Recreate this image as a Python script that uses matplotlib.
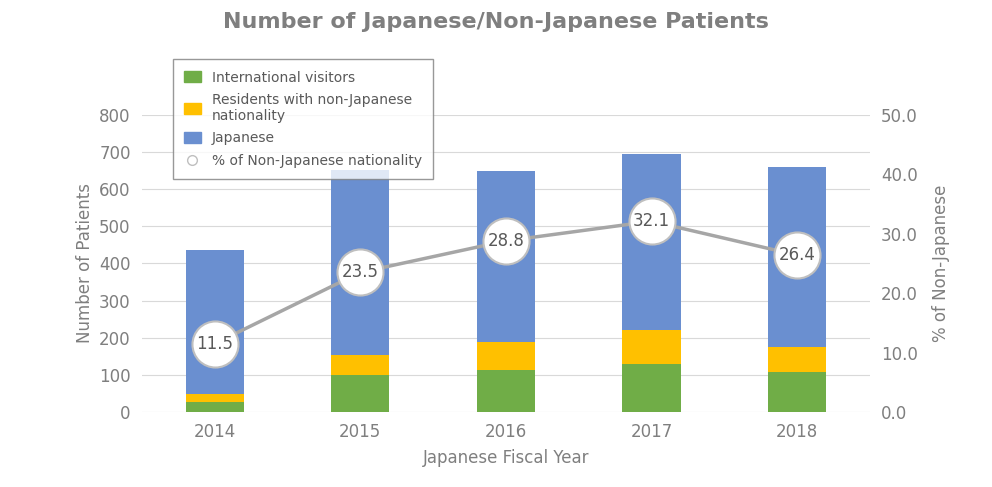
import matplotlib.pyplot as plt
import numpy as np
from matplotlib.patches import Patch
from matplotlib.lines import Line2D

years = ["2014", "2015", "2016", "2017", "2018"]
international = [27, 100, 113, 130, 107]
residents = [21, 53, 75, 92, 68]
japanese = [387, 498, 460, 473, 485]
pct_non_japanese = [11.5, 23.5, 28.8, 32.1, 26.4]

GREEN = "#70ad47"
YELLOW = "#ffc000"
BLUE = "#6a8fd0"
GREY = "#7f7f7f"

fig = plt.figure(figsize=(9.92, 4.87), dpi=100)
ax = fig.add_axes([0.143, 0.154, 0.734, 0.610])
x = np.arange(len(years))
w = 0.4
b1 = np.array(international)
b2 = b1 + np.array(residents)
ax.bar(x, international, w, color=GREEN, zorder=2)
ax.bar(x, residents, w, bottom=b1, color=YELLOW, zorder=2)
ax.bar(x, japanese, w, bottom=b2, color=BLUE, zorder=2)
ax.set_xlim(-0.5, 4.5)
ax.set_ylim(0, 800)
ax.set_yticks(range(0, 801, 100))
ax.grid(axis="y", color="#d9d9d9", lw=0.8, zorder=0)
ax.set_xticks(x)
ax.set_xticklabels(years)
for s in ax.spines.values():
    s.set_visible(False)
ax.tick_params(length=0, labelsize=12, colors=GREY, pad=8)
ax.set_ylabel("Number of Patients", fontsize=12, color=GREY)
ax.set_xlabel("Japanese Fiscal Year", fontsize=12, color=GREY, labelpad=6)

ax2 = ax.twinx()
ax2.set_ylim(0, 50)
ax2.set_yticks(range(0, 51, 10))
ax2.set_yticklabels([f"{v:.1f}" for v in range(0, 51, 10)])
for s in ax2.spines.values():
    s.set_visible(False)
ax2.tick_params(length=0, labelsize=12, colors=GREY, pad=8)
ax2.set_ylabel("% of Non-Japanese", fontsize=12, color=GREY, labelpad=10)
ax2.plot(x, pct_non_japanese, color="#a6a6a6", lw=2.5, zorder=3)
ax2.scatter(x, pct_non_japanese, s=1100, facecolor="white", edgecolor="#bfbfbf",
            lw=1.5, zorder=4)
for xi, v in zip(x, pct_non_japanese):
    ax2.text(xi, v, f"{v:.1f}", ha="center", va="center", fontsize=12,
             color="#595959", zorder=5)

handles = [
    Patch(color=GREEN, label="International visitors"),
    Patch(color=YELLOW, label="Residents with non-Japanese\nnationality"),
    Patch(color=BLUE, label="Japanese"),
    Line2D([], [], ls="", marker="o", mfc="white", mec="#bfbfbf", ms=7,
           label="% of Non-Japanese nationality"),
]
leg = ax2.legend(handles=handles, loc="upper left", bbox_to_anchor=(0.033, 1.21),
                 frameon=True, fancybox=False, fontsize=10, labelcolor="#595959",
                 handlelength=1.2, handleheight=0.8, borderpad=0.8, labelspacing=0.6)
leg.get_frame().set_edgecolor("#7f7f7f")
leg.set_zorder(10)

fig.suptitle("Number of Japanese/Non-Japanese Patients", fontsize=16,
             fontweight="bold", color=GREY, y=0.975)
fig.savefig("out.png")
